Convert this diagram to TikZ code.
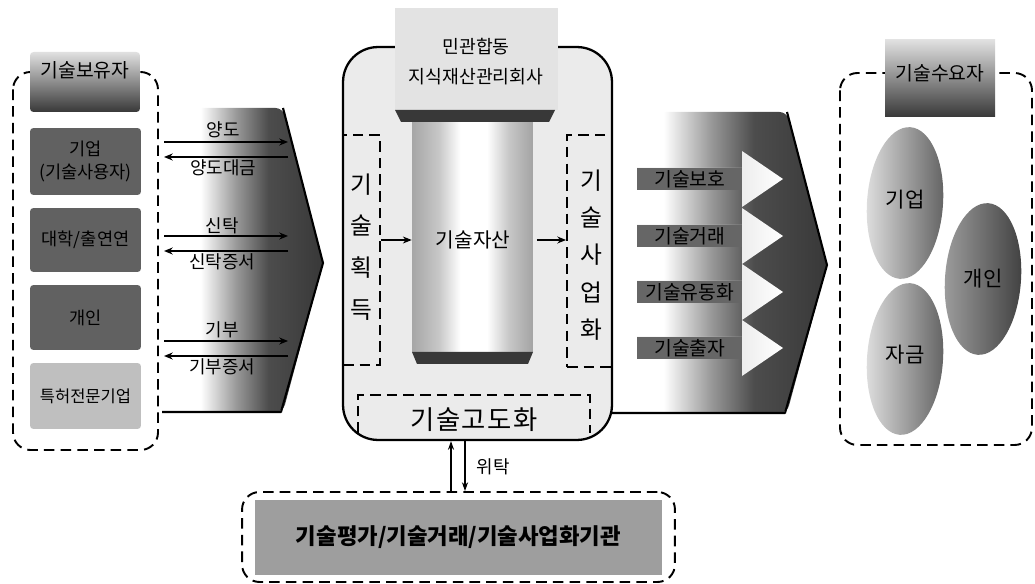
\documentclass[tikz,border=0pt]{standalone}
\usepackage{fontspec}
\setmainfont{Noto Sans CJK KR}
\usetikzlibrary{arrows.meta,shapes.geometric}
\newcommand{\myfs}[2]{\fontsize{#1}{#2}\selectfont}
\pgfdeclarehorizontalshading{flowshade}{100bp}{color(0bp)=(white); color(25bp)=(white); color(37bp)=(white); color(48bp)=(black!40); color(58bp)=(black!70); color(75bp)=(black!78); color(100bp)=(black!78)}
\pgfdeclarehorizontalshading{colshade}{100bp}{color(0bp)=(black!35); color(25bp)=(black!35); color(36bp)=(black!22); color(45bp)=(white); color(56bp)=(white); color(65bp)=(black!22); color(75bp)=(black!36); color(100bp)=(black!36)}
\begin{document}
\begin{tikzpicture}[x=0.02cm,y=-0.02cm,
  dashbox/.style={draw, line width=1.1pt, dash pattern=on 6pt off 3.5pt},
  orgbox/.style={fill=black!62, text=black, minimum width=2.22cm, inner sep=0pt, rounded corners=2pt, align=center, font=\myfs{10}{13}},
  lbl/.style={inner sep=1pt, text=black, font=\myfs{10.2}{12}},
  flowline/.style={line width=0.7pt, -{Stealth[length=5pt,width=4pt]}},
  edge/.style={line width=1.2pt, line join=round},
  vtext/.style={align=center, inner sep=0pt},
  pill/.style={ellipse, minimum width=1.52cm, minimum height=3.04cm, inner sep=0pt},
  ulabel/.style={fill=black!60, text=black, minimum width=2.1cm, minimum height=0.44cm, inner sep=0pt, anchor=west, font=\myfs{11}{13}}
]
\useasboundingbox (0,0) rectangle (1035,584);

% ---------------- left group ----------------
\shade[shading=flowshade, rounded corners=0.15cm] (162,108) -- (283,108) -- (323,263) -- (283,412) -- (162,412) -- cycle;
\draw[edge] (162,412) -- (281,412) -- (323,263) -- (283,108);
\draw[dashbox, rounded corners=0.35cm] (13,72) rectangle (158,450);
\shade[top color=black!12, bottom color=black!78, rounded corners=2pt] (30,52) rectangle (140,112);
\node[inner sep=1pt, font=\myfs{11}{13}] (hold) at (85,70) {기술보유자};
\node[orgbox, minimum height=1.34cm] (b1) at (85.5,161.5) {기업\\(기술사용자)};
\node[orgbox, minimum height=1.28cm] (b2) at (85.5,240) {대학/출연연};
\node[orgbox, minimum height=1.3cm] (b3) at (85.5,317.5) {개인};
\node[orgbox, fill=black!25, minimum height=1.32cm, font=\myfs{9.4}{12}] (b4) at (85.5,396) {특허전문기업};

\coordinate (t1s) at (164,142); \coordinate (t1e) at (288,142);
\coordinate (t2s) at (288,157); \coordinate (t2e) at (164,157);
\coordinate (t3s) at (164,236); \coordinate (t3e) at (288,236);
\coordinate (t4s) at (288,251); \coordinate (t4e) at (164,251);
\coordinate (t5s) at (164,341); \coordinate (t5e) at (288,341);
\coordinate (t6s) at (288,356); \coordinate (t6e) at (164,356);
\draw[flowline] (t1s) -- (t1e);
\draw[flowline] (t2s) -- (t2e);
\draw[flowline] (t3s) -- (t3e);
\draw[flowline] (t4s) -- (t4e);
\draw[flowline] (t5s) -- (t5e);
\draw[flowline] (t6s) -- (t6e);
\node[lbl] (l1) at (223,130) {양도};
\node[lbl] (l2) at (223,168) {양도대금};
\node[lbl] (l3) at (222,226) {신탁};
\node[lbl] (l4) at (222,262) {신탁증서};
\node[lbl] (l5) at (222,330) {기부};
\node[lbl] (l6) at (222,367) {기부증서};

% ---------------- right flow ----------------
\shade[shading=flowshade, rounded corners=0.15cm] (612,112) -- (787,112) -- (827,265) -- (787,413) -- (612,413) -- cycle;
\draw[edge] (612,413) -- (785,413) -- (827,265) -- (787,112);
\foreach \c/\t/\n in {179/기술보호/u1, 236/기술거래/u2, 292/기술유동화/u3, 348/기술출자/u4}{
  \shade[left color=black!25, right color=white] (637,\c-11) -- (742,\c-11) -- (742,\c-28) -- (783,\c) -- (742,\c+28) -- (742,\c+11) -- (637,\c+11) -- cycle;
  \node[ulabel] (\n) at (637,\c) {\t};
}

% ---------------- center ----------------
\node[draw, line width=1.3pt, rounded corners=0.7cm, fill=black!8, minimum width=5.38cm, minimum height=7.86cm, inner sep=0pt] (cbox) at (477.5,243.5) {};
\fill[black!11] (395,8) rectangle (558,110);
\node[align=center, inner sep=1pt, font=\myfs{10.4}{17}] (corp) at (476,62) {민관합동\\지식재산관리회사};
\fill[black!78] (395,110) -- (555,110) -- (549,122) -- (401,122) -- cycle;
\node[shade, shading=colshade, minimum width=2.42cm, minimum height=4.6cm, inner sep=0pt] (col) at (472.5,237) {};
\fill[black!78] (412,352) -- (533,352) -- (528,364) -- (417,364) -- cycle;
\node[inner sep=1pt, font=\myfs{11.5}{14}] (asset) at (473,240) {기술자산};

\node[dashbox, minimum width=0.74cm, minimum height=4.6cm, inner sep=0pt] (acq) at (361.5,250) {};
\node[vtext, font=\myfs{13.5}{23.8}] (acqt) at (361,247) {기\\술\\획\\득};
\node[dashbox, minimum width=0.9cm, minimum height=4.64cm, inner sep=0pt] (comm) at (589.5,251) {};
\node[vtext, font=\myfs{13.5}{21.3}] (commt) at (591,255) {기\\술\\사\\업\\화};
\draw[flowline] (acq.east |- asset) -- (col.west |- asset);
\draw[flowline] ([xshift=2pt]col.east |- asset) -- (comm.west |- asset);

\draw[dashbox] (358,433) -- (358,395) -- (590,395) -- (590,433);
\node[inner sep=1pt, font=\myfs{15}{18}\addfontfeatures{LetterSpace=6}] (adv) at (474,420) {기술고도화};

% ---------------- right group ----------------
\draw[dashbox, rounded corners=0.35cm] (840,73) rectangle (1032,445);
\shade[top color=black!12, bottom color=black!78] (885,40) rectangle (995,117);
\node[inner sep=1pt, font=\myfs{11}{13}] (need) at (940,73) {기술수요자};
\node[pill, rotate=-4, shading angle=110, left color=black!12, right color=black!62] (e1) at (905,203) {};
\node[pill, rotate=-4, shading angle=110, left color=black!38, right color=black!75] (e2) at (983,279) {};
\node[pill, rotate=-4, shading angle=110, left color=black!12, right color=black!62] (e3) at (905,359) {};
\node[inner sep=1pt, font=\myfs{12}{14}] (e1t) at (905,200) {기업};
\node[inner sep=1pt, font=\myfs{12}{14}] (e2t) at (983,279) {개인};
\node[inner sep=1pt, font=\myfs{12}{14}] (e3t) at (905,355) {자금};

% ---------------- bottom ----------------
\node[dashbox, rounded corners=0.35cm, minimum width=8.66cm, minimum height=1.8cm, inner sep=0pt] (agbox) at (458.5,537) {};
\node[fill=black!38, minimum width=8.14cm, minimum height=1.5cm, inner sep=0pt, font=\bfseries\myfs{12.7}{15}] (agency) at (458.5,537.5) {기술평가/기술거래/기술사업화기관};
\draw[line width=0.6pt, -{Stealth[length=5pt,width=3.5pt]}] ([xshift=-0.15cm]agbox.north) -- ([xshift=-0.15cm]agbox.north |- cbox.south);
\draw[line width=0.6pt, -{Stealth[length=5pt,width=3.5pt]}] ([xshift=0.13cm]agbox.north |- cbox.south) -- ([xshift=0.13cm]agbox.north);
\node[lbl] (wt) at (493,467) {위탁};
\end{tikzpicture}
\end{document}
